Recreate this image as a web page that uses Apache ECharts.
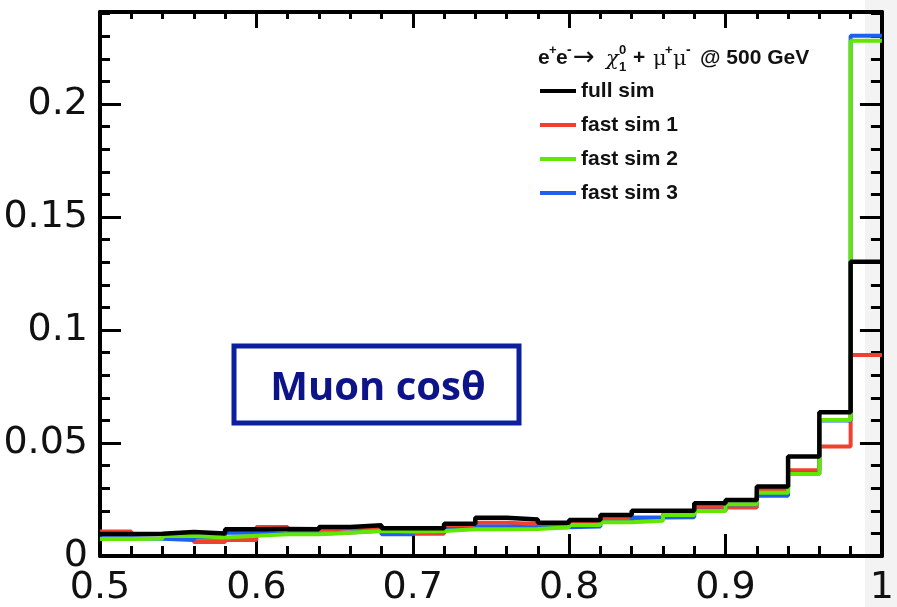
<!DOCTYPE html>
<html><head><meta charset="utf-8">
<script src="https://cdn.jsdelivr.net/npm/echarts@6/dist/echarts.min.js"></script>
<style>html,body{margin:0;padding:0;background:#fff}#c{width:897px;height:607px}</style>
</head><body><div id="c"></div>
<script>
// bin left edges (width 0.02), last edge closes the histogram
const binEdges = [0.50,0.52,0.54,0.56,0.58,0.60,0.62,0.64,0.66,0.68,0.70,0.72,0.74,0.76,0.78,0.80,0.82,0.84,0.86,0.88,0.90,0.92,0.94,0.96,0.98];
const xUpper = 1.0;
const fullSim  = [0.0097,0.0098,0.0106,0.0100,0.0118,0.0119,0.0118,0.0128,0.0136,0.0123,0.0123,0.0143,0.0169,0.0162,0.0147,0.0159,0.0181,0.0200,0.0200,0.0233,0.0248,0.0307,0.0440,0.0636,0.1302];
const fastSim1 = [0.0108,0.0096,0.0102,0.0062,0.0071,0.0128,0.0116,0.0122,0.0128,0.0110,0.0099,0.0128,0.0147,0.0142,0.0141,0.0154,0.0164,0.0168,0.0186,0.0215,0.0215,0.0295,0.0379,0.0484,0.0889];
const fastSim2 = [0.0075,0.0077,0.0088,0.0082,0.0090,0.0096,0.0096,0.0103,0.0111,0.0108,0.0111,0.0118,0.0118,0.0119,0.0127,0.0137,0.0149,0.0156,0.0181,0.0199,0.0229,0.0280,0.0363,0.0602,0.2280];
const fastSim3 = [0.0078,0.0076,0.0071,0.0081,0.0103,0.0098,0.0098,0.0104,0.0112,0.0096,0.0111,0.0120,0.0130,0.0126,0.0127,0.0130,0.0150,0.0170,0.0171,0.0200,0.0228,0.0267,0.0364,0.0600,0.2302];
const seriesNames = ['full sim','fast sim 1','fast sim 2','fast sim 3'];
const boxLabel = 'Muon cosθ';

function steps(vals){
  const d = binEdges.map((x,i)=>[x, vals[i]]);
  d.push([xUpper, vals[vals.length-1]]);
  return d;
}
const chart = echarts.init(document.getElementById('c'), null, {renderer:'canvas'});
const BLK = '#000';
const labelFont = {fontSize:38, fontFamily:'DejaVu Sans', color:'#111'};
function xAx(pos, interval, len, showLine, labels){
  return {type:'value', position:pos, min:0.5, max:1.0, interval:interval,
    axisLine:{show:showLine, onZero:false, lineStyle:{color:BLK, width:4}},
    axisTick:{show:true, inside:true, length:len, lineStyle:{color:BLK, width:3}},
    axisLabel: labels ? Object.assign({show:true, margin:13}, labelFont) : {show:false},
    splitLine:{show:false}};
}
function yAx(pos, interval, len, showLine, labels){
  return {type:'value', position:pos, min:0, max:0.2407, interval:interval,
    axisLine:{show:showLine, onZero:false, lineStyle:{color:BLK, width:4}},
    axisTick:{show:true, inside:true, length:len, lineStyle:{color:BLK, width:3}},
    axisLabel: labels ? Object.assign({show:true, margin:12, showMaxLabel:false}, labelFont) : {show:false},
    splitLine:{show:false}};
}
function line(name, vals, color, w){
  return {name:name, type:'line', step:'end', data:steps(vals), symbol:'none',
    xAxisIndex:0, yAxisIndex:0, color:color,
    lineStyle:{color:color, width:w}, itemStyle:{color:color}};
}
const boldTxt = {fontFamily:'Liberation Sans', fontWeight:'bold', fill:'#111'};
function T(text, x, y, size, extra){
  return {type:'text', x:x, y:y, style:Object.assign({text:text, fontSize:size, verticalAlign:'middle', align:'left'}, boldTxt, extra||{}), z:100};
}
const ty = 58, sy = 50;
chart.setOption({
  animation:false,
  grid:{left:100, right:6, top:12, bottom:51, containLabel:false},
  xAxis:[xAx('bottom',0.1,22,true,true), xAx('bottom',0.02,10,false,false), xAx('top',0.1,16,true,false), xAx('top',0.02,7,false,false)],
  yAxis:[yAx('left',0.05,21,true,true), yAx('left',0.01,10,false,false), yAx('right',0.05,22,true,false), yAx('right',0.01,11,false,false)],
  legend:{data:seriesNames, orient:'vertical', left:540, top:79, padding:0, itemWidth:36, itemHeight:4, itemGap:10, icon:'rect', selectedMode:false,
    textStyle:{fontFamily:'Liberation Sans', fontWeight:'bold', fontSize:21, color:'#111', lineHeight:24}},
  series:[
    line(seriesNames[1], fastSim1, '#f0402f', 4),
    line(seriesNames[3], fastSim3, '#1e5ef0', 4),
    line(seriesNames[2], fastSim2, '#62e800', 4),
    line(seriesNames[0], fullSim, '#000000', 4.5)
  ],
  graphic:[
    {type:'rect', shape:{x:865, y:0, width:32, height:607}, style:{fill:'#f3f3f3'}, z:-1, silent:true},
    {type:'rect', shape:{x:234, y:346, width:285, height:77}, style:{fill:'#fff', stroke:'#0c1f9e', lineWidth:5}, z:50},
    {type:'text', x:378, y:389, z:51, style:{text:boxLabel, fontFamily:'Open Sans', fontWeight:'bold', fontSize:40, fill:'#0d1388', align:'center', verticalAlign:'middle'}},
    T('e', 538, ty, 21), T('+', 549, sy, 13), T('e', 556, ty, 21), T('-', 567, sy, 14),
    T('→', 573, ty, 26, {fontFamily:'DejaVu Sans', fontWeight:'normal'}),
    T('χ', 606, ty+2, 21, {fontFamily:'DejaVu Serif', fontWeight:'normal', fontStyle:'italic'}),
    T('0', 619, sy, 13), T('1', 619, 67, 13),
    T('+', 633, ty, 21),
    T('μ', 653, ty+2, 21, {fontFamily:'DejaVu Serif', fontWeight:'normal'}), T('+', 665, sy, 13),
    T('μ', 673, ty+2, 21, {fontFamily:'DejaVu Serif', fontWeight:'normal'}), T('-', 686, sy, 14),
    T('@ 500 GeV', 700, ty, 21)
  ]
});
</script></body></html>
